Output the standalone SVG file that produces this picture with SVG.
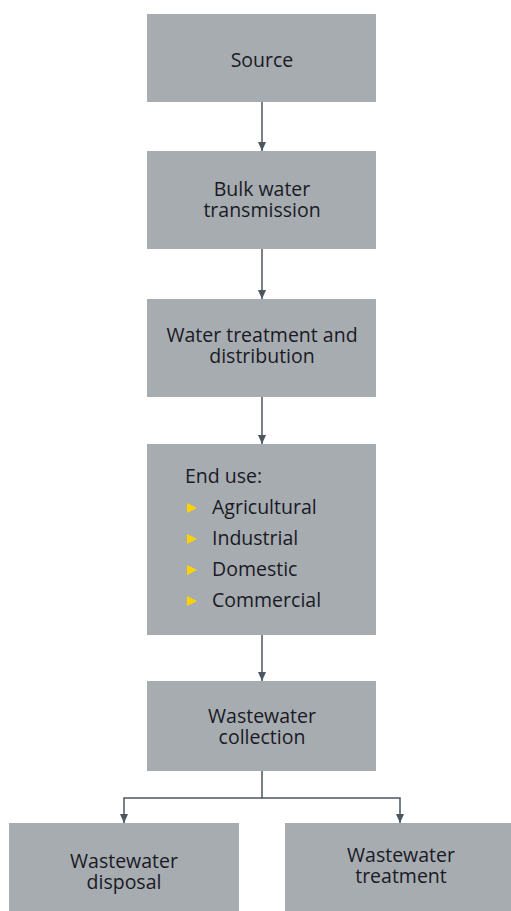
<svg xmlns="http://www.w3.org/2000/svg" width="511" height="911" viewBox="0 0 511 911">
<style>
.box{fill:#a7acb1}
.t{font-family:"Open Sans","Noto Sans","Liberation Sans",sans-serif;font-size:19.5px;fill:#1a1a24}
.c{text-anchor:middle}
.ln{stroke:#4b5661;stroke-width:1.5;fill:none}
.b{fill:#ffd200}
</style>
<defs>
<marker id="ah" markerWidth="10" markerHeight="8" refX="9" refY="4" orient="auto" markerUnits="userSpaceOnUse">
<path d="M0,0 L9,4 L0,8 Z" fill="#4b5661"/>
</marker>
</defs>
<rect width="511" height="911" fill="#fff"/>
<g id="connectors">
<line class="ln" x1="262" y1="102" x2="262" y2="151" marker-end="url(#ah)"/>
<line class="ln" x1="262" y1="249" x2="262" y2="299" marker-end="url(#ah)"/>
<line class="ln" x1="262" y1="397" x2="262" y2="444" marker-end="url(#ah)"/>
<line class="ln" x1="262" y1="635" x2="262" y2="681" marker-end="url(#ah)"/>
<polyline class="ln" points="262,771 262,798 124,798 124,823" marker-end="url(#ah)"/>
<polyline class="ln" points="262,798 400,798 400,823" marker-end="url(#ah)"/>
</g>
<g id="source">
<rect class="box" x="147" y="14" width="229" height="88"/>
<text class="t c" x="262" y="67">Source</text>
</g>
<g id="bulk">
<rect class="box" x="147" y="151" width="229" height="98"/>
<text class="t c" x="262" y="196">Bulk water</text>
<text class="t c" x="262" y="217">transmission</text>
</g>
<g id="treatment">
<rect class="box" x="147" y="299" width="229" height="98"/>
<text class="t c" x="262" y="342">Water treatment and</text>
<text class="t c" x="262" y="363">distribution</text>
</g>
<g id="enduse">
<rect class="box" x="147" y="444" width="229" height="191"/>
<text class="t" x="185" y="483">End use:</text>
<path class="b" d="M187,503 L197,508 L187,513 Z"/>
<text class="t" x="212" y="514">Agricultural</text>
<path class="b" d="M187,534 L197,539 L187,544 Z"/>
<text class="t" x="212" y="545">Industrial</text>
<path class="b" d="M187,565 L197,570 L187,575 Z"/>
<text class="t" x="212" y="576">Domestic</text>
<path class="b" d="M187,596 L197,601 L187,606 Z"/>
<text class="t" x="212" y="607">Commercial</text>
</g>
<g id="collection">
<rect class="box" x="147" y="681" width="229" height="90"/>
<text class="t c" x="262" y="723">Wastewater</text>
<text class="t c" x="262" y="744">collection</text>
</g>
<g id="disposal">
<rect class="box" x="9" y="823" width="230" height="88"/>
<text class="t c" x="124" y="868">Wastewater</text>
<text class="t c" x="124" y="889">disposal</text>
</g>
<g id="wwtreatment">
<rect class="box" x="285" y="823" width="226" height="88"/>
<text class="t c" x="401" y="862">Wastewater</text>
<text class="t c" x="401" y="883">treatment</text>
</g>
</svg>
